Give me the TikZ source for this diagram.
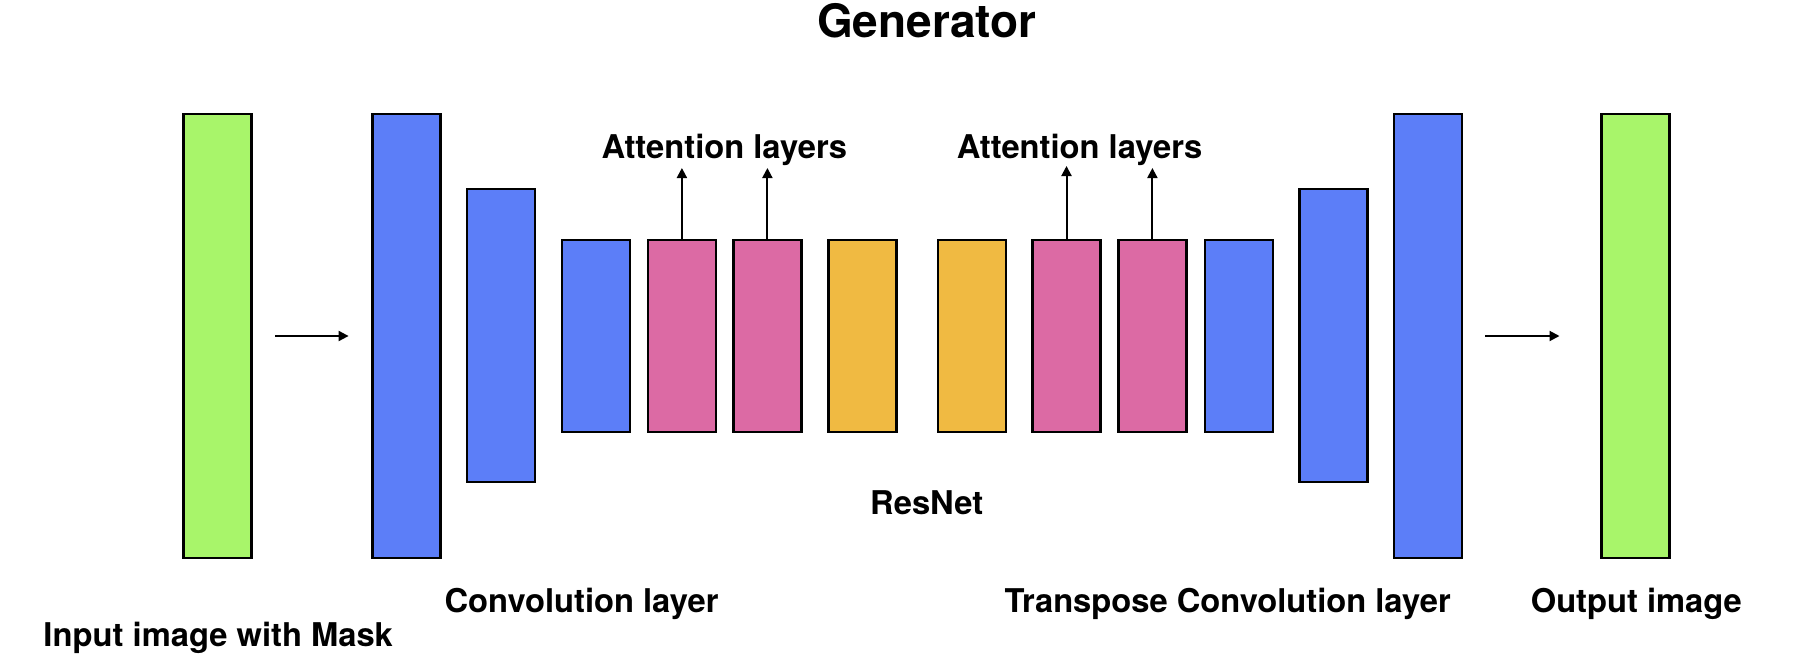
\documentclass[tikz,border=0pt]{standalone}
\usepackage{fontspec}
\setmainfont{TeX Gyre Heros}
\usetikzlibrary{arrows.meta}
\definecolor{cgreen}{RGB}{168,245,106}
\definecolor{cblue}{RGB}{92,126,248}
\definecolor{cpink}{RGB}{220,106,164}
\definecolor{cyellow}{RGB}{240,186,66}
\begin{document}
\begin{tikzpicture}[x=1bp,y=-1bp,
  layer/.style={draw=black, line width=2.4bp, inner sep=0pt, outer sep=0pt, minimum width=68bp},
  tall/.style={layer, minimum height=444bp},
  mid/.style={layer, minimum height=293bp},
  small/.style={layer, minimum height=192bp},
  lbl/.style={inner sep=0pt, anchor=base west, font=\fontsize{32.7bp}{38bp}\selectfont\bfseries},
  arr/.style={line width=2bp, -{Triangle[length=10bp,width=10bp]}}]
\useasboundingbox[fill=white] (0,0) rectangle (1810,664);
% boxes
\node[tall, fill=cgreen] (in) at (217.4,336) {};
\node[tall, fill=cblue] (c1) at (406.6,336) {};
\node[mid, fill=cblue] (c2) at (500.9,335.4) {};
\node[small, fill=cblue] (c3) at (595.8,335.8) {};
\node[small, fill=cpink] (a1) at (681.9,335.8) {};
\node[small, fill=cpink] (a2) at (767.4,335.8) {};
\node[small, fill=cyellow] (r1) at (862.3,335.8) {};
\node[small, fill=cyellow] (r2) at (972,335.8) {};
\node[small, fill=cpink] (a3) at (1066.5,335.8) {};
\node[small, fill=cpink] (a4) at (1152.4,335.8) {};
\node[small, fill=cblue] (t3) at (1239,335.8) {};
\node[mid, fill=cblue] (t2) at (1333.5,335.4) {};
\node[tall, fill=cblue] (t1) at (1428,336) {};
\node[tall, fill=cgreen] (out) at (1635.5,336) {};
% arrows
\draw[arr, shorten <=24bp, shorten >=24bp] (in) -- (c1);
\draw[arr, shorten <=23bp, shorten >=42bp] (t1) -- (out);
\coordinate (k1) at (681.9,168);
\coordinate (k2) at (767.4,168);
\coordinate (k3) at (1066.5,166);
\coordinate (k4) at (1152.4,168);
\draw[arr] (a1) -- (k1);
\draw[arr] (a2) -- (k2);
\draw[arr] (a3) -- (k3);
\draw[arr] (a4) -- (k4);
% texts
\node[inner sep=0pt, anchor=base, font=\fontsize{46bp}{54bp}\selectfont\bfseries] (title) at (927,37.7) {Generator};
\node[lbl] (lat1) at (601.4,158.3) {Attention layers};
\node[lbl] (lat2) at (956.7,158.3) {Attention layers};
\node[lbl] (lres) at (870,514.7) {ResNet};
\node[lbl] (lconv) at (444.4,612.5) {Convolution layer};
\node[lbl] (ltc) at (1004.3,612.5) {Transpose Convolution layer};
\node[lbl] (lout) at (1530.6,612.5) {Output image};
\node[lbl] (lin) at (43.3,646) {Input image with Mask};
\end{tikzpicture}
\end{document}
